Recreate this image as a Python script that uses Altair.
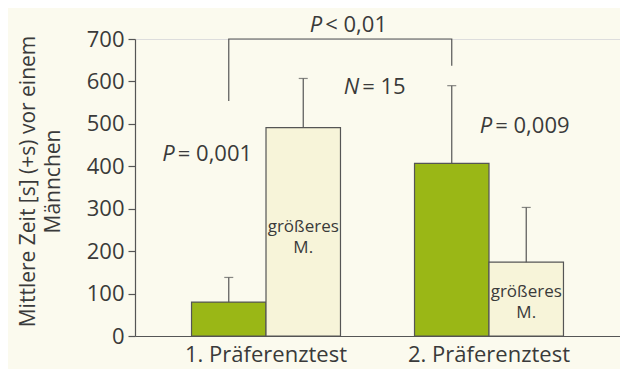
import altair as alt
import pandas as pd

groups = ["1. Präferenztest", "2. Präferenztest"]
subs = ["kleineres M.", "größeres M."]
bar_group = ["1. Präferenztest", "1. Präferenztest", "2. Präferenztest", "2. Präferenztest"]
bar_sub = ["kleineres M.", "größeres M.", "kleineres M.", "größeres M."]
means = [80, 491, 407, 174]
sds = [58, 116, 183, 129]

bracket_group = ["1. Präferenztest", "1. Präferenztest", "2. Präferenztest", "2. Präferenztest"]
bracket_y = [554, 700, 700, 637]

inbar_group = ["1. Präferenztest", "2. Präferenztest"]
inbar_y = [258, 104]
inbar_text = [["größeres", "M."], ["größeres", "M."]]

FONT = "Open Sans"
TXT = "#3a3a3a"
LINE = "#555555"
GREEN = "#9ab716"
CREAM = "#f7f4d9"
BG = "#fbfaee"
FS = 22

bars = pd.DataFrame({
    "group": bar_group, "sub": bar_sub, "mean": means,
    "top": [m + s for m, s in zip(means, sds)],
})

xenc = alt.X("group:N", scale=alt.Scale(domain=groups, paddingInner=0.332, paddingOuter=0.2535),
             axis=alt.Axis(title=None, labelAngle=0, tickSize=0, labelPadding=8,
                           labelFontSize=FS, labelColor=TXT, labelFont=FONT,
                           domainColor=LINE, domainWidth=1.2))
xoff = alt.XOffset("sub:N", scale=alt.Scale(domain=subs, paddingInner=0, paddingOuter=0))
yscale = alt.Scale(domain=[0, 700], nice=False)
yaxis = alt.Axis(title=["Mittlere Zeit [s] (+s) vor einem", "Männchen"], values=list(range(0, 701, 100)),
                 tickSize=7, tickColor=LINE, tickWidth=1.2, domainColor=LINE, domainWidth=1.2,
                 labelFontSize=FS, labelColor=TXT, labelFont=FONT, labelPadding=4, grid=False,
                 titleFontSize=21, titleFontWeight="normal", titleColor=TXT, titleFont=FONT,
                 titlePadding=23, titleLineHeight=25, titleY=142)

base = alt.Chart(bars)

bar_layer = base.mark_bar(stroke=LINE, strokeWidth=1.2).encode(
    x=xenc, xOffset=xoff,
    y=alt.Y("mean:Q", scale=yscale, axis=yaxis),
    color=alt.Color("sub:N", scale=alt.Scale(domain=subs, range=[GREEN, CREAM]), legend=None),
)
stem = base.mark_rule(color=LINE, strokeWidth=1.2).encode(
    x=xenc, xOffset=xoff, y="mean:Q", y2="top:Q")
cap = base.mark_tick(orient="horizontal", size=9, thickness=1.2, color=LINE).encode(
    x=xenc, xOffset=xoff, y="top:Q")

br = pd.DataFrame({"group": bracket_group, "sub": [subs[0]] * 4, "y": bracket_y, "o": [0, 1, 2, 3]})
bracket = alt.Chart(br).mark_line(color=LINE, strokeWidth=1.2).encode(
    x=xenc, xOffset=xoff, y=alt.Y("y:Q", scale=yscale), order="o:Q")

ib = pd.DataFrame({"group": inbar_group, "sub": [subs[1]] * 2, "y": inbar_y, "t": inbar_text})
inbar = alt.Chart(ib).mark_text(font=FONT, fontSize=17, color=TXT, baseline="middle",
                                align="center", lineHeight=21).encode(
    x=xenc, xOffset=xoff, y=alt.Y("y:Q", scale=yscale), text="t")


def ann(group, sub, y, italic, rest, dx):
    d = pd.DataFrame({"group": [group], "sub": [sub], "y": [y]})
    c = alt.Chart(d)
    a = c.mark_text(text=italic, font=FONT, fontSize=FS, fontStyle="italic", color=TXT,
                    align="right", baseline="middle", dx=dx).encode(
        x=xenc, xOffset=xoff, y=alt.Y("y:Q", scale=yscale))
    b = c.mark_text(text=rest, font=FONT, fontSize=FS, color=TXT,
                    align="left", baseline="middle", dx=dx + 3).encode(
        x=xenc, xOffset=xoff, y=alt.Y("y:Q", scale=yscale))
    return [a, b]


anns = []
anns += ann(groups[0], subs[0], 428, "P", "= 0,001", -54)
anns += ann(groups[0], subs[1], 588, "N", "= 15", 56)
anns += ann(groups[1], subs[1], 495, "P", "= 0,009", -34)
anns += ann(groups[0], subs[1], 732, "P", "< 0,01", 19)

chart = alt.layer(bar_layer, stem, cap, bracket, inbar, *anns).properties(
    width=485, height=297,
    autosize=alt.AutoSizeParams(type="none"),
    padding={"left": 127, "top": 31, "right": 0, "bottom": 33},
    background=BG,
).configure_view(stroke=None).configure(font=FONT)

chart.save("out.html", embed_options={"renderer": "svg", "actions": False})
